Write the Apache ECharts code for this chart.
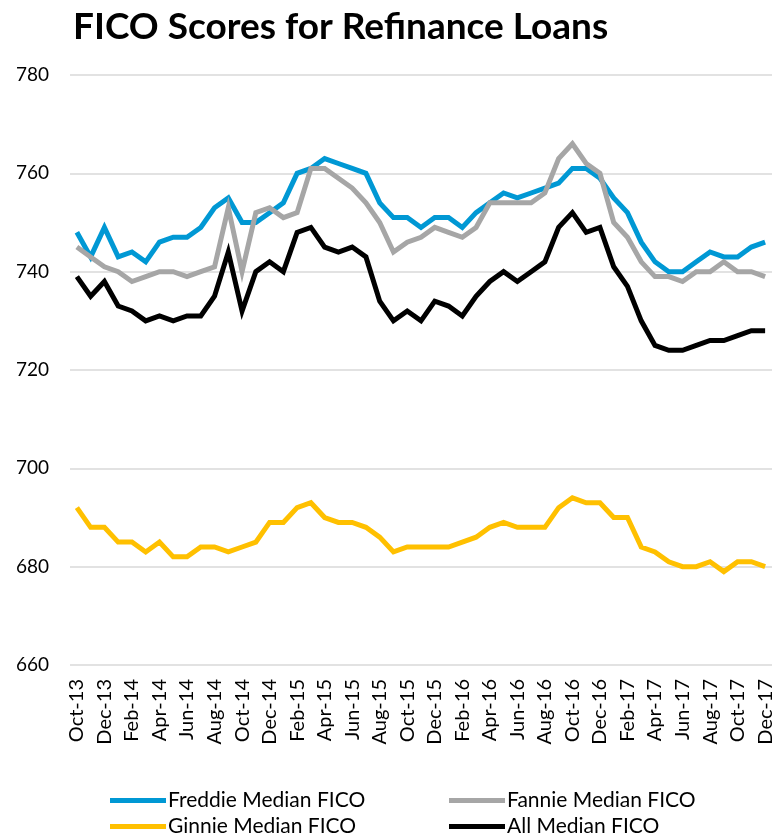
<!DOCTYPE html>
<html>
<head>
<meta charset="utf-8">
<script src="https://cdn.jsdelivr.net/npm/echarts@6/dist/echarts.min.js"></script>
<style>
  html, body { margin: 0; padding: 0; background: #fff; }
  #main { width: 783px; height: 836px; }
</style>
</head>
<body>
<div id="main"></div>
<script>
  // months Oct-13 .. Dec-17
  var months = ['Oct-13','Nov-13','Dec-13','Jan-14','Feb-14','Mar-14','Apr-14','May-14','Jun-14','Jul-14','Aug-14','Sep-14',
    'Oct-14','Nov-14','Dec-14','Jan-15','Feb-15','Mar-15','Apr-15','May-15','Jun-15','Jul-15','Aug-15','Sep-15',
    'Oct-15','Nov-15','Dec-15','Jan-16','Feb-16','Mar-16','Apr-16','May-16','Jun-16','Jul-16','Aug-16','Sep-16',
    'Oct-16','Nov-16','Dec-16','Jan-17','Feb-17','Mar-17','Apr-17','May-17','Jun-17','Jul-17','Aug-17','Sep-17',
    'Oct-17','Nov-17','Dec-17'];

  var freddie = [748,743,749,743,744,742,746,747,747,749,753,755,750,750,752,754,760,761,763,762,761,760,754,751,
    751,749,751,751,749,752,754,756,755,756,757,758,761,761,759,755,752,746,742,740,740,742,744,743,743,745,746];
  var fannie = [745,743,741,740,738,739,740,740,739,740,741,753,740,752,753,751,752,761,761,759,757,754,750,744,
    746,747,749,748,747,749,754,754,754,754,756,763,766,762,760,750,747,742,739,739,738,740,740,742,740,740,739];
  var ginnie = [692,688,688,685,685,683,685,682,682,684,684,683,684,685,689,689,692,693,690,689,689,688,686,683,
    684,684,684,684,685,686,688,689,688,688,688,692,694,693,693,690,690,684,683,681,680,680,681,679,681,681,680];
  var allFico = [739,735,738,733,732,730,731,730,731,731,735,744,732,740,742,740,748,749,745,744,745,743,734,730,
    732,730,734,733,731,735,738,740,738,740,742,749,752,748,749,741,737,730,725,724,724,725,726,726,727,728,728];

  var yTicks = [660, 680, 700, 720, 740, 760, 780];

  var chart = echarts.init(document.getElementById('main'));
  var font = 'Lato, "Noto Sans", sans-serif';

  function lineSeries(name, data, color) {
    return {
      name: name,
      type: 'line',
      data: data,
      symbol: 'none',
      lineStyle: { color: color, width: 5, join: 'miter' },
      itemStyle: { color: color }
    };
  }

  function legendItem(name, left, top) {
    return {
      data: [name],
      left: left,
      top: top,
      padding: 0,
      itemWidth: 56,
      itemHeight: 5,
      itemGap: 0,
      icon: 'rect',
      textStyle: { fontFamily: font, fontSize: 21, color: '#000', padding: [0, 0, 0, -3] }
    };
  }

  var option = {
    animation: false,
    title: {
      text: 'FICO Scores for Refinance Loans',
      left: 68,
      top: 4,
      textStyle: { fontFamily: font, fontWeight: 'bold', fontSize: 37, color: '#000' }
    },
    grid: { left: 70, right: 11, top: 75, bottom: 171, containLabel: false },
    xAxis: {
      type: 'category',
      data: months,
      boundaryGap: true,
      axisLine: { show: false },
      axisTick: { show: false },
      axisLabel: {
        rotate: 90,
        interval: 1,
        margin: 14,
        fontFamily: font,
        fontSize: 20,
        color: '#000'
      }
    },
    yAxis: {
      type: 'value',
      min: yTicks[0],
      max: yTicks[yTicks.length - 1],
      interval: 20,
      axisLine: { show: false },
      axisTick: { show: false },
      splitLine: { lineStyle: { color: '#d9d9d9', width: 1.5 } },
      axisLabel: { margin: 21, fontFamily: font, fontSize: 19, color: '#000' }
    },
    legend: [
      legendItem('Freddie Median FICO', 110, 790),
      legendItem('Ginnie Median FICO', 110, 816),
      legendItem('Fannie Median FICO', 449, 790),
      legendItem('All Median FICO', 449, 816)
    ],
    series: [
      lineSeries('Freddie Median FICO', freddie, '#0098d4'),
      lineSeries('Fannie Median FICO', fannie, '#a6a6a6'),
      lineSeries('Ginnie Median FICO', ginnie, '#ffc000'),
      lineSeries('All Median FICO', allFico, '#000000')
    ]
  };

  chart.setOption(option);
</script>
</body>
</html>
